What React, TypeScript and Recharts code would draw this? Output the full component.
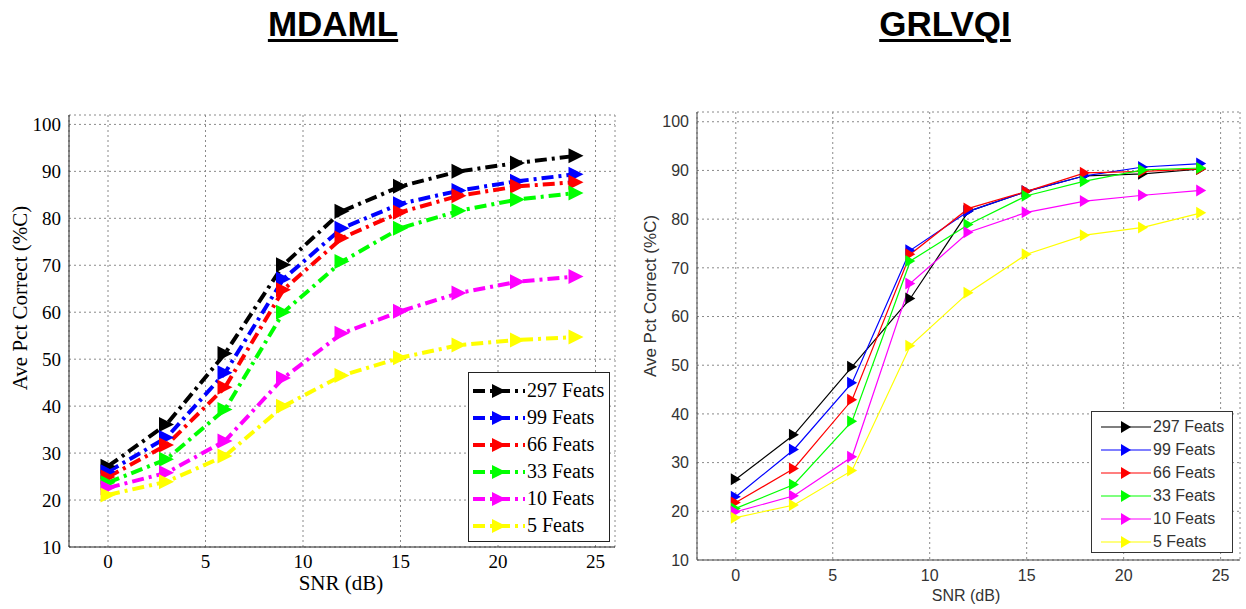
import React from 'react';
import { LineChart, Line, XAxis, YAxis, CartesianGrid, Legend } from 'recharts';

const snr = [0, 3, 6, 9, 12, 15, 18, 21, 24];
const featLabels = ['297 Feats', '99 Feats', '66 Feats', '33 Feats', '10 Feats', '5 Feats'];
const featColors = ['#000000', '#0000ff', '#ff0000', '#00ff00', '#ff00ff', '#ffff00'];
const xTicks = [0, 5, 10, 15, 20, 25];
const yTicks = [10, 20, 30, 40, 50, 60, 70, 80, 90, 100];

// MDAML
const mdaml297 = [27.2, 36.1, 51.2, 70.1, 81.5, 86.8, 90.0, 91.8, 93.3];
const mdaml99 = [26.0, 33.3, 47.1, 67.1, 77.9, 83.1, 85.9, 87.9, 89.4];
const mdaml66 = [24.9, 31.7, 44.0, 64.8, 75.8, 81.3, 84.8, 86.8, 87.7];
const mdaml33 = [23.7, 28.7, 39.3, 60.0, 70.8, 77.9, 81.6, 84.0, 85.4];
const mdaml10 = [22.6, 25.8, 32.6, 46.0, 55.5, 60.2, 64.1, 66.5, 67.6];
const mdaml5 = [21.1, 23.9, 29.4, 40.0, 46.5, 50.3, 53.0, 54.1, 54.7];

// GRLVQI
const grlvqi297 = [26.6, 35.7, 49.7, 63.7, 81.6, 85.7, 88.9, 89.3, 90.3];
const grlvqi99 = [23.0, 32.7, 46.4, 73.6, 81.6, 85.7, 88.9, 90.7, 91.4];
const grlvqi66 = [21.8, 28.8, 42.9, 72.8, 82.2, 85.7, 89.5, 89.8, 90.3];
const grlvqi33 = [20.6, 25.5, 38.5, 71.4, 78.9, 84.8, 87.8, 90.1, 90.5];
const grlvqi10 = [19.9, 23.2, 31.2, 66.8, 77.3, 81.4, 83.7, 84.9, 85.9];
const grlvqi5 = [18.7, 21.3, 28.4, 54.0, 64.9, 72.8, 76.7, 78.3, 81.3];

const buildRows = (series: number[][]) =>
  snr.map((s, i) => {
    const row: any = { snr: s };
    series.forEach((vals, k) => { row['s' + k] = vals[i]; });
    return row;
  });

const mdamlData = buildRows([mdaml297, mdaml99, mdaml66, mdaml33, mdaml10, mdaml5]);
const grlvqiData = buildRows([grlvqi297, grlvqi99, grlvqi66, grlvqi33, grlvqi10, grlvqi5]);

const SERIF = '"Liberation Serif", "Times New Roman", serif';
const SANS = '"Liberation Sans", Arial, sans-serif';
const DASHDOT = '12 5 3 5';

const triDot = (color: string, w: number, h: number) => (props: any) => {
  const { cx, cy, index } = props;
  if (cx == null || cy == null) return <g key={index} />;
  return (
    <path
      key={index}
      d={`M${cx - w / 2},${cy - h / 2}L${cx + w / 2},${cy}L${cx - w / 2},${cy + h / 2}Z`}
      fill={color}
    />
  );
};

const LeftLegend = () => (
  <div style={{ border: '1px solid #222', background: '#fff', width: 142, height: 170, boxSizing: 'border-box', paddingTop: 4, fontFamily: SERIF, fontSize: 20, color: '#000' }}>
    {featLabels.map((name, k) => (
      <div key={name} style={{ height: 27, display: 'flex', alignItems: 'center', whiteSpace: 'nowrap' }}>
        <svg width={58} height={20} style={{ flex: 'none' }}>
          <line x1={4} y1={10} x2={56} y2={10} stroke={featColors[k]} strokeWidth={4} strokeDasharray={DASHDOT} />
          <path d="M23,3L37,10L23,17Z" fill={featColors[k]} />
        </svg>
        <span>{name}</span>
      </div>
    ))}
  </div>
);

const RightLegend = () => (
  <div style={{ border: '1px solid #333', background: '#fff', width: 142, height: 142, boxSizing: 'border-box', paddingTop: 3, fontFamily: SANS, fontSize: 16, color: '#333' }}>
    {featLabels.map((name, k) => (
      <div key={name} style={{ height: 23, display: 'flex', alignItems: 'center', whiteSpace: 'nowrap' }}>
        <svg width={61} height={16} style={{ flex: 'none' }}>
          <line x1={9} y1={8} x2={59} y2={8} stroke={featColors[k]} strokeWidth={1.2} />
          <path d="M29,2L39,8L29,14Z" fill={featColors[k]} />
        </svg>
        <span>{name}</span>
      </div>
    ))}
  </div>
);

const titleStyle: React.CSSProperties = {
  position: 'absolute', top: 4, fontFamily: SANS, fontWeight: 'bold', fontSize: 35,
  textDecoration: 'underline', textDecorationThickness: 3, textUnderlineOffset: 3,
  transform: 'translateX(-50%)', whiteSpace: 'nowrap', color: '#000',
};

const App = () => {
  return (
    <div style={{ position: 'absolute', left: 0, top: 0, width: 1246, height: 609, background: '#fff', overflow: 'hidden' }}>
      <div style={{ ...titleStyle, left: 333 }}>MDAML</div>
      <div style={{ ...titleStyle, left: 945 }}>GRLVQI</div>

      <div style={{ position: 'absolute', left: 0, top: 0 }}>
        <LineChart width={625} height={609} data={mdamlData} margin={{ top: 115, right: 10, bottom: 22, left: 29 }}>
          <CartesianGrid stroke="#8a8a8a" strokeDasharray="2 3" />
          <XAxis dataKey="snr" type="number" domain={[-2, 26]} ticks={xTicks} height={40} tickLine={false}
            axisLine={{ stroke: '#222' }} tick={{ fill: '#000', fontSize: 19, fontFamily: SERIF }} />
          <YAxis type="number" domain={[10, 102]} ticks={yTicks} width={40} tickLine={false}
            axisLine={{ stroke: '#222' }} tick={{ fill: '#000', fontSize: 19, fontFamily: SERIF }} />
          {featLabels.map((name, k) => (
            <Line key={name} dataKey={'s' + k} name={name} stroke={featColors[k]} strokeWidth={4}
              strokeDasharray={DASHDOT} dot={triDot(featColors[k], 15, 15)} activeDot={false} isAnimationActive={false} />
          ))}
          <Legend layout="horizontal" align="center" verticalAlign="middle" content={<LeftLegend />}
            wrapperStyle={{ left: 468, top: 372, width: 142, height: 170 }} />
        </LineChart>
      </div>

      <div style={{ position: 'absolute', left: 625, top: 0 }}>
        <LineChart width={621} height={609} data={grlvqiData} margin={{ top: 112, right: 6, bottom: 14, left: 27 }}>
          <CartesianGrid stroke="#8a8a8a" strokeDasharray="2 3" />
          <XAxis dataKey="snr" type="number" domain={[-2, 26]} ticks={xTicks} height={35} tickLine={false} tickMargin={4}
            axisLine={{ stroke: '#444' }} tick={{ fill: '#333', fontSize: 16, fontFamily: SANS }} />
          <YAxis type="number" domain={[10, 102]} ticks={yTicks} width={45} tickLine={false}
            axisLine={{ stroke: '#444' }} tick={{ fill: '#333', fontSize: 16, fontFamily: SANS }} />
          {featLabels.map((name, k) => (
            <Line key={name} dataKey={'s' + k} name={name} stroke={featColors[k]} strokeWidth={1.2}
              dot={triDot(featColors[k], 10, 12)} activeDot={false} isAnimationActive={false} />
          ))}
          <Legend layout="horizontal" align="center" verticalAlign="middle" content={<RightLegend />}
            wrapperStyle={{ left: 466, top: 411, width: 142, height: 142 }} />
        </LineChart>
      </div>

      <div style={{ position: 'absolute', left: 20, top: 298, transform: 'translate(-50%, -50%) rotate(-90deg)', whiteSpace: 'nowrap', fontFamily: SERIF, fontSize: 21, color: '#000' }}>
        Ave Pct Correct (%C)
      </div>
      <div style={{ position: 'absolute', left: 341, top: 583, transform: 'translate(-50%, -50%)', whiteSpace: 'nowrap', fontFamily: SERIF, fontSize: 21, color: '#000' }}>
        SNR (dB)
      </div>
      <div style={{ position: 'absolute', left: 651, top: 296, transform: 'translate(-50%, -50%) rotate(-90deg)', whiteSpace: 'nowrap', fontFamily: SANS, fontSize: 17, color: '#333' }}>
        Ave Pct Correct (%C)
      </div>
      <div style={{ position: 'absolute', left: 966, top: 596, transform: 'translate(-50%, -50%)', whiteSpace: 'nowrap', fontFamily: SANS, fontSize: 16, color: '#333' }}>
        SNR (dB)
      </div>
    </div>
  );
};

export default App;
